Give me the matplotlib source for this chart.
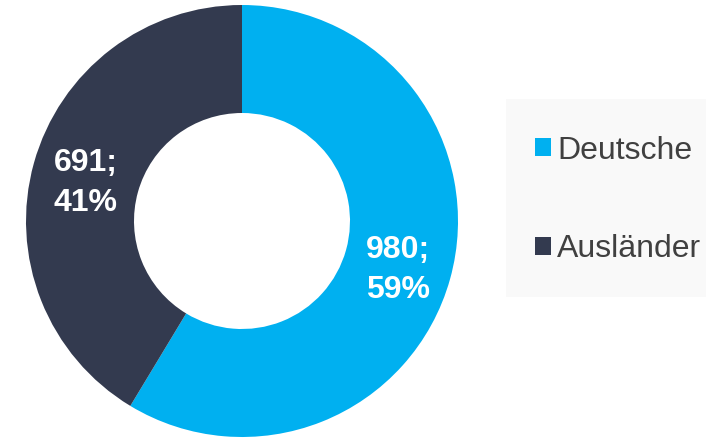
import matplotlib
matplotlib.use("Agg")
import matplotlib.pyplot as plt
from matplotlib.patches import Patch, Rectangle
import numpy as np

plt.rcParams['font.family'] = ['Liberation Sans', 'DejaVu Sans']

categories = ["Deutsche", "Ausländer"]
values = [980, 691]
colors = ["#00B0F0", "#333A4F"]

W, H = 706, 438
fig = plt.figure(figsize=(W / 100, H / 100), dpi=100)

cx, cy, R = 242, 221, 216
ax = fig.add_axes([(cx - R) / W, (H - cy - R) / H, 2 * R / W, 2 * R / H])

total = sum(values)

wedges, texts = ax.pie(values, colors=colors, startangle=90, counterclock=False,
                       radius=1.0, wedgeprops=dict(width=0.5, edgecolor='none'))
for w, v in zip(wedges, values):
    ang = np.deg2rad((w.theta1 + w.theta2) / 2)
    pct = 100.0 * v / total
    ax.text(0.75 * np.cos(ang), 0.75 * np.sin(ang) - 0.025, f"{v};\n{pct:.0f}%",
            ha='center', va='center', color='white', fontsize=23,
            fontweight='bold', linespacing=1.42)
ax.set_xlim(-1, 1)
ax.set_ylim(-1, 1)
ax.set_aspect('equal')
ax.axis('off')

# legend background
fig.patches.append(Rectangle((506 / W, 1 - 297 / H), 200 / W, 198 / H,
                             transform=fig.transFigure, facecolor='#F9F9F9',
                             edgecolor='none', zorder=0))
handles = [Patch(facecolor=c, edgecolor='none') for c in colors]
fig.legend(handles, categories, loc='center left',
           bbox_to_anchor=(535 / W, 1 - 200 / H), frameon=False,
           fontsize=23, handlelength=0.5, handleheight=0.5,
           handletextpad=0.2, labelspacing=2.15, borderpad=0.0,
           borderaxespad=0.0, labelcolor='#404040')

fig.savefig("out.png", dpi=100)
